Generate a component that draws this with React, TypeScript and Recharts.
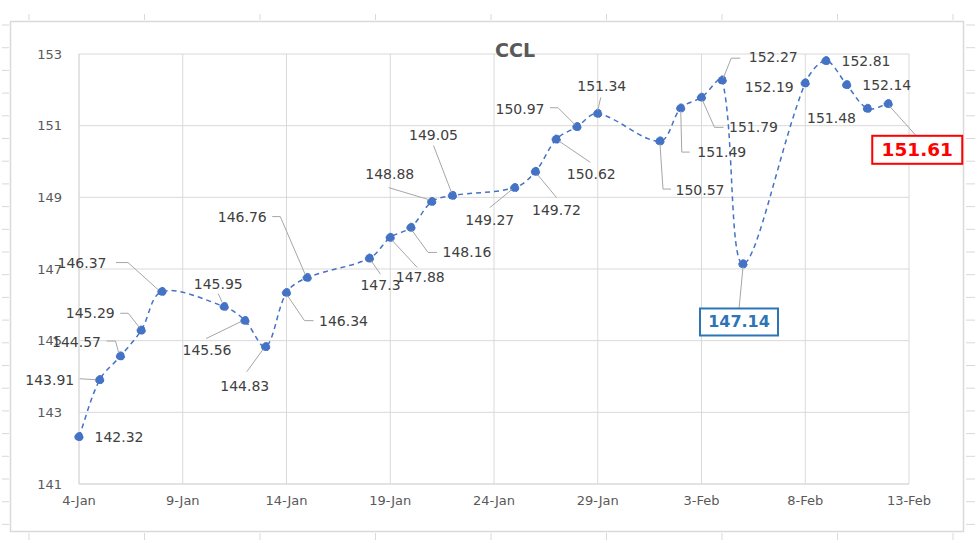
import { LineChart, Line, XAxis, YAxis, CartesianGrid } from "recharts";

// CCL daily quotes, Jan-Feb 2021
const dates = [
  "2021-01-04", "2021-01-05", "2021-01-06", "2021-01-07", "2021-01-08",
  "2021-01-11", "2021-01-12", "2021-01-13", "2021-01-14", "2021-01-15",
  "2021-01-18", "2021-01-19", "2021-01-20", "2021-01-21", "2021-01-22",
  "2021-01-25", "2021-01-26", "2021-01-27", "2021-01-28", "2021-01-29",
  "2021-02-01", "2021-02-02", "2021-02-03", "2021-02-04", "2021-02-05",
  "2021-02-08", "2021-02-09", "2021-02-10", "2021-02-11", "2021-02-12",
];
const ccl = [
  142.32, 143.91, 144.57, 145.29, 146.37,
  145.95, 145.56, 144.83, 146.34, 146.76,
  147.3, 147.88, 148.16, 148.88, 149.05,
  149.27, 149.72, 150.62, 150.97, 151.34,
  150.57, 151.49, 151.79, 152.27, 147.14,
  152.19, 152.81, 152.14, 151.48, 151.61,
];
const tickDates = [
  "2021-01-04", "2021-01-09", "2021-01-14", "2021-01-19", "2021-01-24",
  "2021-01-29", "2021-02-03", "2021-02-08", "2021-02-13",
];
const tickLabels = ["4-Jan", "9-Jan", "14-Jan", "19-Jan", "24-Jan", "29-Jan", "3-Feb", "8-Feb", "13-Feb"];
const yTicks = [141, 143, 145, 147, 149, 151, 153];

const DAY = 86400000;
const start = Date.parse(dates[0]);
const toDay = (d: string) => Math.round((Date.parse(d) - start) / DAY);

const data = dates.map((d, i) => ({ day: toDay(d), value: ccl[i] }));
const xTicks = tickDates.map(toDay);

const BLUE = "#4472C4";
const LEADER = "#a6a6a6";
const FONT = "'DejaVu Sans', Verdana, sans-serif";

// Excel-like smoothed line: Catmull-Rom tangents, scaled by segment length so short
// segments next to long ones don't loop
function excelSmooth(context: any) {
  let pts: number[][] = [];
  const dist = (a: number[], b: number[]) => Math.hypot(b[0] - a[0], b[1] - a[1]) || 1;
  return {
    areaStart() {},
    areaEnd() {},
    lineStart() {
      pts = [];
    },
    point(x: number, y: number) {
      pts.push([+x, +y]);
    },
    lineEnd() {
      if (!pts.length) return;
      context.moveTo(pts[0][0], pts[0][1]);
      for (let i = 0; i < pts.length - 1; i++) {
        const p0 = pts[i - 1] || pts[i];
        const p1 = pts[i];
        const p2 = pts[i + 1];
        const p3 = pts[i + 2] || p2;
        const d01 = i > 0 ? dist(p0, p1) : 0;
        const d12 = dist(p1, p2);
        const d23 = i + 2 < pts.length ? dist(p2, p3) : 0;
        const k1 = (d12 / (d01 + d12)) / 3;
        const k2 = (d12 / (d12 + d23)) / 3;
        context.bezierCurveTo(
          p1[0] + (p2[0] - p0[0]) * k1,
          p1[1] + (p2[1] - p0[1]) * k1,
          p2[0] - (p3[0] - p1[0]) * k2,
          p2[1] - (p3[1] - p1[1]) * k2,
          p2[0],
          p2[1]
        );
      }
    },
  };
}

// label placement relative to each dot: [dx, dy, leader polyline]
type Layout = { dx: number; dy: number; leader?: number[][] };
const LABEL_LAYOUT: Layout[] = [
  { dx: 40, dy: 0 },
  { dx: -50, dy: 0, leader: [[-20, -1], [-4, 0]] },
  { dx: -44, dy: -14, leader: [[-14, -15], [-5, -15], [-2, -4]] },
  { dx: -51, dy: -17, leader: [[-21, -17], [-13, -17], [-2, -3]] },
  { dx: -80, dy: -29, leader: [[-46, -29], [-34, -29], [-4, -2]] },
  { dx: -6, dy: -23, leader: [[-6, -13], [-2, -4]] },
  { dx: -38, dy: 29, leader: [[-39, 18], [-4, 1]] },
  { dx: -21, dy: 39, leader: [[-19, 25], [-3, 3]] },
  { dx: 57, dy: 28, leader: [[1, 3], [18, 28], [27, 28]] },
  { dx: -65, dy: -61, leader: [[-35, -61], [-27, -61], [-2, -3]] },
  { dx: 11, dy: 27, leader: [[2, 3], [11, 16]] },
  { dx: 30, dy: 40, leader: [[2, 3], [27, 30]] },
  { dx: 56, dy: 25, leader: [[1, 3], [17, 25], [26, 25]] },
  { dx: -42, dy: -28, leader: [[-43, -14], [-3, -2]] },
  { dx: -19, dy: -61, leader: [[-19, -50], [-1, -3]] },
  { dx: -25, dy: 32, leader: [[-25, 20], [-3, 2]] },
  { dx: 21, dy: 38, leader: [[21, 26], [2, 3]] },
  { dx: 35, dy: 35, leader: [[34, 23], [3, 2]] },
  { dx: -57, dy: -18, leader: [[-27, -19], [-19, -19], [-2, -2]] },
  { dx: 4, dy: -27, leader: [[3, -16], [0, -3]] },
  { dx: 40, dy: 49, leader: [[0, 3], [3, 48], [11, 48]] },
  { dx: 41, dy: 44, leader: [[0, 3], [1, 44], [9, 44]] },
  { dx: 52, dy: 30, leader: [[1, 3], [13, 30], [22, 30]] },
  { dx: 51, dy: -23, leader: [[1, -2], [9, -22], [18, -22]] },
  { dx: -4, dy: 58, leader: [[0, 3], [-4, 45]] },
  { dx: -36, dy: 4 },
  { dx: 40, dy: 0 },
  { dx: 40, dy: 0 },
  { dx: -36, dy: 10 },
  { dx: 29, dy: 46, leader: [[1, 2], [28, 32]] },
];

// boxed callouts
const BOXES: Record<number, { color: string; w: number; h: number; size: number }> = {
  24: { color: "#2E75B6", w: 78, h: 27, size: 16 },
  29: { color: "#FF0000", w: 90, h: 28, size: 18.5 },
};

function PointLabel(props: any) {
  const { x, y, index, value } = props;
  const cfg = LABEL_LAYOUT[index];
  if (!cfg || x == null || y == null) return null;
  const cx = x + cfg.dx;
  const cy = y + cfg.dy;
  const box = BOXES[index];
  return (
    <g>
      {cfg.leader ? (
        <polyline
          points={cfg.leader.map((p) => `${x + p[0]},${y + p[1]}`).join(" ")}
          fill="none"
          stroke={LEADER}
          strokeWidth={1}
        />
      ) : null}
      {box ? (
        <rect
          x={cx - box.w / 2}
          y={cy - box.h / 2}
          width={box.w}
          height={box.h}
          fill="#fff"
          stroke={box.color}
          strokeWidth={2}
        />
      ) : null}
      <text
        x={cx}
        y={cy}
        textAnchor="middle"
        dominantBaseline="central"
        fontFamily={FONT}
        fontSize={box ? box.size : 14}
        fontWeight={box ? 700 : 400}
        fill={box ? box.color : "#404040"}
      >
        {value}
      </text>
    </g>
  );
}

function SheetFrame() {
  const cols = [29, 144.5, 260, 375.5, 491, 606.5, 722, 837.5, 953];
  const rows: number[] = [];
  for (let y = 25; y < 540; y += 22.7) rows.push(y);
  return (
    <svg width={980} height={543} style={{ position: "absolute", left: 0, top: 0 }}>
      {rows.map((y) => (
        <g key={y}>
          <line x1={2} x2={9} y1={y} y2={y} stroke="#d9d9d9" />
          <line x1={966} x2={975} y1={y} y2={y} stroke="#d9d9d9" />
        </g>
      ))}
      {cols.map((x) => (
        <g key={x}>
          <line x1={x} x2={x} y1={14} y2={20} stroke="#d9d9d9" />
          <line x1={x} x2={x} y1={533} y2={540} stroke="#d9d9d9" />
        </g>
      ))}
      <rect x={10.5} y={21.5} width={953} height={510} fill="#fff" stroke="#d9d9d9" strokeWidth={1.5} />
    </svg>
  );
}

export default function App() {
  return (
    <div style={{ position: "absolute", left: 0, top: 0, width: 980, height: 543 }}>
      <SheetFrame />
      <div style={{ position: "absolute", left: 0, top: 0 }}>
        <LineChart
          width={980}
          height={543}
          data={data}
          margin={{ top: 54, right: 71, bottom: 29, left: 39 }}
        >
          <CartesianGrid stroke="#d9d9d9" strokeWidth={1} />
          <XAxis
            dataKey="day"
            type="number"
            domain={[0, 40]}
            ticks={xTicks}
            tickFormatter={(v: number) => tickLabels[xTicks.indexOf(v)] ?? ""}
            tickLine={false}
            tickSize={0}
            tickMargin={12}
            height={30}
            axisLine={{ stroke: "#d9d9d9" }}
            tick={{ fill: "#595959", fontSize: 13, fontFamily: FONT }}
          />
          <YAxis
            type="number"
            domain={[141, 153]}
            ticks={yTicks}
            tickLine={false}
            tickSize={0}
            tickMargin={17}
            width={40}
            axisLine={{ stroke: "#d9d9d9" }}
            tick={{ fill: "#595959", fontSize: 13, fontFamily: FONT }}
          />
          <Line
            type={excelSmooth as any}
            dataKey="value"
            stroke={BLUE}
            strokeWidth={1.5}
            strokeDasharray="5 4"
            dot={{ r: 4.2, fill: BLUE, stroke: BLUE, strokeWidth: 1 }}
            activeDot={false}
            label={PointLabel}
            isAnimationActive={false}
          />
        </LineChart>
      </div>
      <svg width={980} height={543} style={{ position: "absolute", left: 0, top: 0, pointerEvents: "none" }}>
        <text x={515} y={57} textAnchor="middle" fontFamily={FONT} fontWeight={700} fontSize={19} fill="#595959">
          CCL
        </text>
      </svg>
    </div>
  );
}
